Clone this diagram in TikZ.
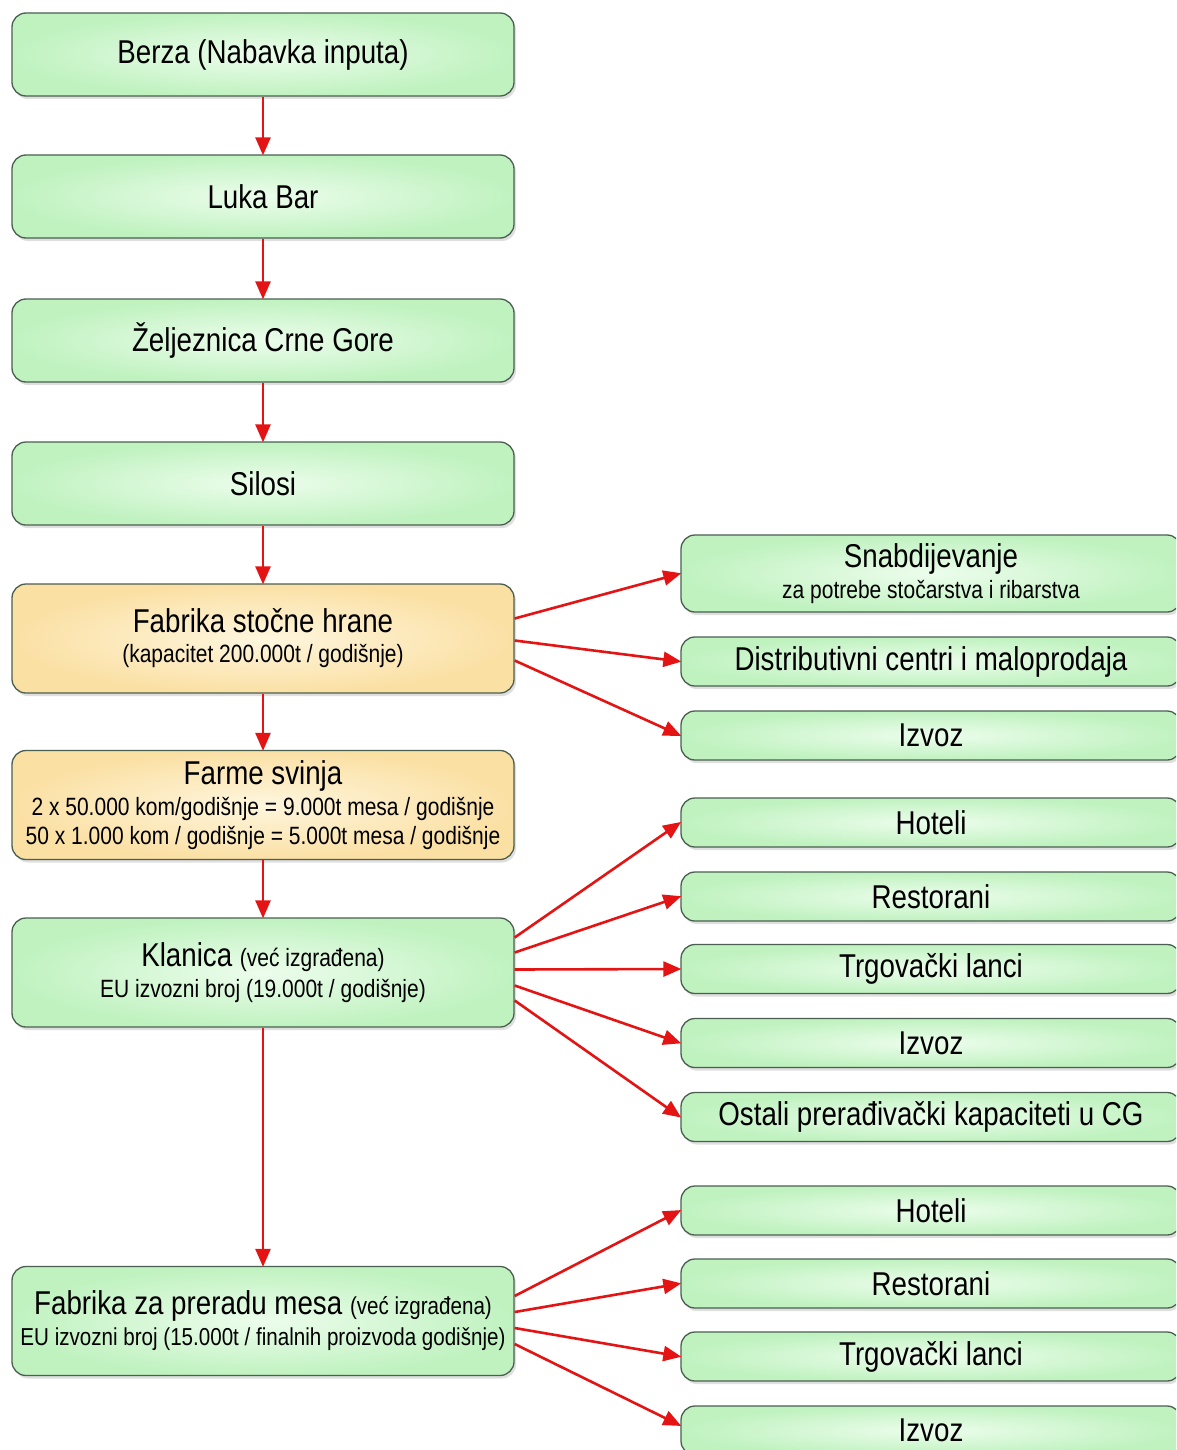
\documentclass[tikz,border=0pt]{standalone}
\usepackage{fontspec}
\setmainfont[FakeStretch=0.84]{Liberation Sans}
\usetikzlibrary{arrows.meta,shadows}
\definecolor{gout}{RGB}{192,242,192}
\definecolor{gin}{RGB}{236,253,236}
\definecolor{yout}{RGB}{251,224,164}
\definecolor{yin}{RGB}{254,246,222}
\definecolor{bord}{RGB}{75,95,80}
\definecolor{arrred}{RGB}{228,20,20}
\newcommand{\fbig}{\fontsize{33}{38}\selectfont}
\newcommand{\fsub}{\fontsize{25}{30}\selectfont}
\begin{document}
\begin{tikzpicture}[x=1pt,y=-1pt,
  basebox/.style={draw=bord, line width=1.3pt, rounded corners=14pt, align=center, inner sep=0pt,
     drop shadow={shadow xshift=2pt, shadow yshift=-3pt, opacity=0.25}},
  gbox/.style={basebox, inner color=gin, outer color=gout},
  ybox/.style={basebox, inner color=yin, outer color=yout},
  lbox/.style={minimum width=502pt, minimum height=83pt, font=\fbig},
  tbox/.style={minimum width=502pt, minimum height=109pt, font=\fontsize{10}{30}\selectfont},
  rbox/.style={gbox, minimum width=500pt, minimum height=49pt, font=\fbig},
  arr/.style={draw=arrred, line width=2.6pt, -{Triangle[length=18pt,width=15pt]}, shorten >=-1pt}
]
\useasboundingbox (0,0) rectangle (1176,1450);
\fill[white] (0,0) rectangle (1176,1450);
\clip (0,0) rectangle (1176,1450);
% left column
\node[gbox,lbox] (berza) at (263,54.5) {Berza (Nabavka inputa)};
\node[gbox,lbox] (luka) at (263,196.5) {Luka Bar};
\node[gbox,lbox] (zel) at (263,340.5) {Željeznica Crne Gore};
\node[gbox,lbox] (silos) at (263,483.5) {Silosi};
\node[ybox,tbox] (fsh) at (263,638.5) {{\fbig Fabrika stočne hrane}\\{\fsub (kapacitet 200.000t / godišnje)}};
\node[ybox,tbox] (farm) at (263,805) {{\fbig Farme svinja}\\[1pt]{\fsub 2 x 50.000 kom/godišnje = 9.000t mesa / godišnje}\\[-1pt]{\fsub 50 x 1.000 kom / godišnje = 5.000t mesa / godišnje}};
\node[gbox,tbox] (klan) at (263,972.5) {{\fbig Klanica }{\fsub (već izgrađena)}\\[1pt]{\fsub EU izvozni broj (19.000t / godišnje)}};
\node[gbox,tbox] (meso) at (263,1321) {{\fbig Fabrika za preradu mesa }{\fontsize{24.5}{30}\selectfont (već izgrađena)}\\[1pt]{\fontsize{24.5}{30}\selectfont EU izvozni broj (15.000t / finalnih proizvoda godišnje)}};
% right column
\node[rbox, minimum height=77pt, font=\fontsize{10}{31}\selectfont] (snab) at (931,573.5) {{\fbig Snabdijevanje}\\{\fontsize{25}{30}\selectfont za potrebe stočarstva i ribarstva}};
\node[rbox] (dist) at (931,661.5) {Distributivni centri i maloprodaja};
\node[rbox] (izv1) at (931,735.5) {Izvoz};
\node[rbox] (hot1) at (931,822.5) {Hoteli};
\node[rbox] (res1) at (931,896.5) {Restorani};
\node[rbox] (trg1) at (931,969) {Trgovački lanci};
\node[rbox] (izv2) at (931,1043) {Izvoz};
\node[rbox] (ost) at (931,1117) {Ostali prerađivački kapaciteti u CG};
\node[rbox] (hot2) at (931,1210.5) {Hoteli};
\node[rbox] (res2) at (931,1283.5) {Restorani};
\node[rbox] (trg2) at (931,1356.5) {Trgovački lanci};
\node[rbox] (izv3) at (931,1430.5) {Izvoz};
% vertical arrows
\draw[arr] (berza) -- (luka);
\draw[arr] (luka) -- (zel);
\draw[arr] (zel) -- (silos);
\draw[arr] (silos) -- (fsh);
\draw[arr] (fsh) -- (farm);
\draw[arr] (farm) -- (klan);
\draw[arr] (klan) -- (meso);
% fan-outs
\draw[arr] ([yshift=20pt]fsh.east) -- (snab.west);
\draw[arr] ([yshift=-2pt]fsh.east) -- (dist.west);
\draw[arr] ([yshift=-22pt]fsh.east) -- (izv1.west);
\draw[arr] ([yshift=35pt]klan.east) -- (hot1.west);
\draw[arr] ([yshift=20pt]klan.east) -- (res1.west);
\draw[arr] ([yshift=3pt]klan.east) -- (trg1.west);
\draw[arr] ([yshift=-13pt]klan.east) -- (izv2.west);
\draw[arr] ([yshift=-28pt]klan.east) -- (ost.west);
\draw[arr] ([yshift=25pt]meso.east) -- (hot2.west);
\draw[arr] ([yshift=9pt]meso.east) -- (res2.west);
\draw[arr] ([yshift=-7pt]meso.east) -- (trg2.west);
\draw[arr] ([yshift=-23pt]meso.east) -- ([yshift=5pt]izv3.west);
\end{tikzpicture}
\end{document}
